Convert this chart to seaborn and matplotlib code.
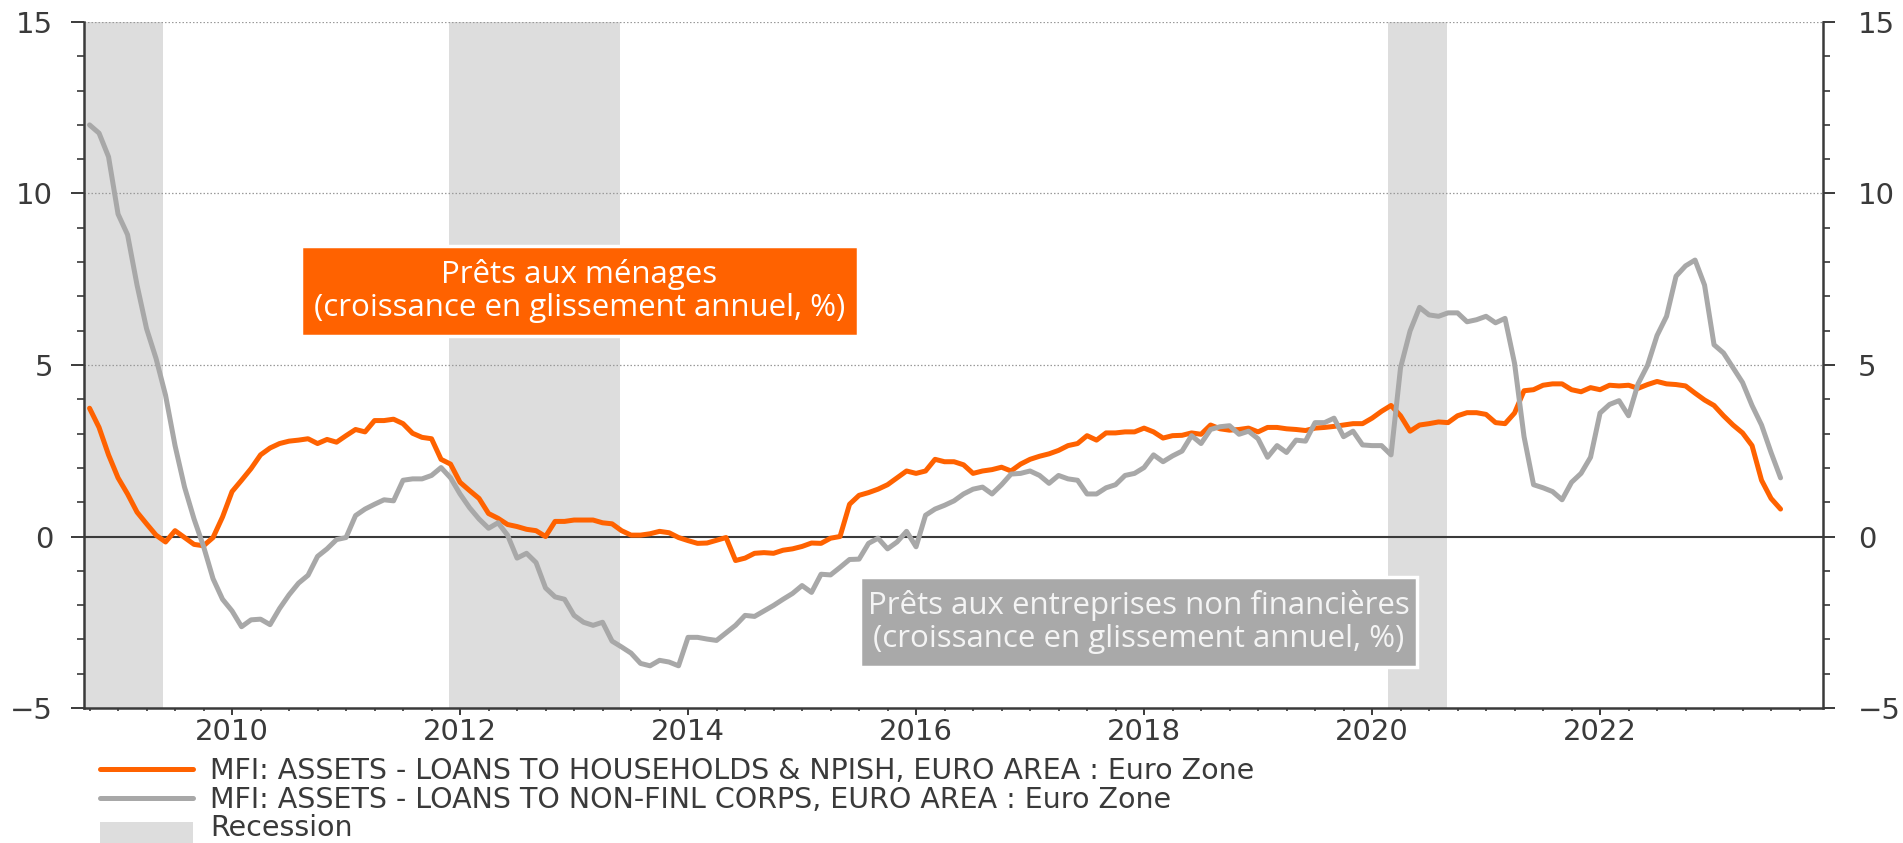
import matplotlib
matplotlib.use("Agg")
import matplotlib.pyplot as plt
from matplotlib.lines import Line2D
from matplotlib.patches import Rectangle
from matplotlib.ticker import MultipleLocator
import numpy as np
import pandas as pd
import seaborn as sns

# monthly y/y growth, Oct 2008 -> Aug 2023
households = [
    3.74, 3.18, 2.38, 1.71, 1.24, 0.71, 0.37, 0.04, -0.16, 0.17,
    -0.03, -0.23, -0.27, -0.03, 0.57, 1.31, 1.64, 1.98, 2.38, 2.58,
    2.71, 2.78, 2.81, 2.85, 2.71, 2.83, 2.75, 2.94, 3.12, 3.05,
    3.38, 3.38, 3.42, 3.29, 3.01, 2.89, 2.85, 2.25, 2.11, 1.58,
    1.34, 1.11, 0.67, 0.53, 0.35, 0.29, 0.21, 0.17, 0.0, 0.44,
    0.44, 0.48, 0.48, 0.48, 0.40, 0.37, 0.17, 0.04, 0.04, 0.08,
    0.15, 0.11, -0.03, -0.12, -0.20, -0.19, -0.11, -0.03, -0.70, -0.63,
    -0.49, -0.47, -0.49, -0.40, -0.36, -0.29, -0.19, -0.20, -0.05, 0.0,
    0.94, 1.20, 1.28, 1.38, 1.51, 1.71, 1.91, 1.84, 1.91, 2.25,
    2.18, 2.18, 2.09, 1.84, 1.91, 1.95, 2.02, 1.91, 2.11, 2.25,
    2.34, 2.41, 2.51, 2.65, 2.71, 2.94, 2.81, 3.02, 3.02, 3.05,
    3.05, 3.16, 3.05, 2.87, 2.94, 2.95, 3.02, 2.98, 3.25, 3.14,
    3.10, 3.12, 3.16, 3.05, 3.18, 3.18, 3.14, 3.12, 3.09, 3.16,
    3.18, 3.21, 3.25, 3.29, 3.29, 3.45, 3.65, 3.82, 3.52, 3.07,
    3.25, 3.29, 3.34, 3.32, 3.52, 3.61, 3.61, 3.56, 3.32, 3.29,
    3.60, 4.25, 4.28, 4.41, 4.45, 4.45, 4.28, 4.22, 4.34, 4.28,
    4.41, 4.39, 4.41, 4.32, 4.43, 4.52, 4.45, 4.43, 4.39, 4.18,
    3.98, 3.82, 3.52, 3.25, 3.02, 2.65, 1.64, 1.11, 0.80,
]
corporates = [
    12.0, 11.76, 11.07, 9.40, 8.80, 7.33, 6.06, 5.19, 4.12, 2.65,
    1.44, 0.51, -0.29, -1.23, -1.83, -2.17, -2.63, -2.43, -2.41, -2.57,
    -2.10, -1.70, -1.36, -1.13, -0.58, -0.36, -0.09, -0.03, 0.61, 0.80,
    0.94, 1.07, 1.04, 1.64, 1.68, 1.68, 1.78, 2.01, 1.71, 1.24,
    0.84, 0.51, 0.24, 0.40, 0.04, -0.63, -0.49, -0.76, -1.50, -1.76,
    -1.83, -2.30, -2.50, -2.59, -2.50, -3.05, -3.22, -3.40, -3.70, -3.77,
    -3.61, -3.66, -3.77, -2.94, -2.94, -2.99, -3.03, -2.81, -2.59, -2.30,
    -2.33, -2.17, -2.01, -1.83, -1.66, -1.43, -1.63, -1.10, -1.12, -0.90,
    -0.67, -0.66, -0.20, -0.05, -0.36, -0.16, 0.15, -0.30, 0.62, 0.80,
    0.91, 1.04, 1.24, 1.38, 1.44, 1.24, 1.51, 1.82, 1.84, 1.91,
    1.78, 1.55, 1.78, 1.68, 1.64, 1.24, 1.24, 1.42, 1.51, 1.78,
    1.84, 2.01, 2.38, 2.18, 2.35, 2.49, 2.94, 2.71, 3.12, 3.20,
    3.23, 2.98, 3.07, 2.85, 2.31, 2.65, 2.45, 2.81, 2.78, 3.32,
    3.32, 3.45, 2.91, 3.07, 2.67, 2.65, 2.65, 2.38, 4.92, 5.99,
    6.68, 6.46, 6.42, 6.52, 6.52, 6.26, 6.32, 6.42, 6.23, 6.36,
    5.05, 2.91, 1.51, 1.42, 1.31, 1.07, 1.58, 1.84, 2.31, 3.60,
    3.85, 3.96, 3.52, 4.45, 4.99, 5.86, 6.42, 7.59, 7.89, 8.06,
    7.33, 5.59, 5.35, 4.92, 4.49, 3.82, 3.25, 2.45, 1.71,
]
start_month = "2008-10-01"

recession_start = [2008.5, 2011.9, 2020.14]
recession_end = [2009.39, 2013.4, 2020.66]

year_ticks = [2010, 2012, 2014, 2016, 2018, 2020, 2022]
value_ticks = [-5, 0, 5, 10, 15]
grid_values = [5, 10, 15]

legend_labels = [
    "MFI: ASSETS - LOANS TO HOUSEHOLDS & NPISH, EURO AREA : Euro Zone",
    "MFI: ASSETS - LOANS TO NON-FINL CORPS, EURO AREA : Euro Zone",
    "Recession",
]
box_households = "Prêts aux ménages\n(croissance en glissement annuel, %)"
box_corporates = "Prêts aux entreprises non financières\n(croissance en glissement annuel, %)"

ORANGE = "#ff6200"
GREY = "#a8a8a8"
SHADE = "#dddddd"
DARK = "#3a3a3a"

months = pd.date_range(start_month, periods=len(households), freq="MS")
t = np.asarray(months.year + (months.month - 1) / 12.0)
n = len(t)
df = pd.DataFrame({
    "t": np.concatenate([t, t]),
    "value": households + corporates,
    "series": ["hh"] * n + ["nfc"] * n,
})

sns.set_style("white")
plt.rcParams["font.family"] = ["DejaVu Sans"]

fig = plt.figure(figsize=(19.03, 8.43), dpi=100)
ax = fig.add_axes([84.3 / 1903, 135 / 843, 1738.7 / 1903, 686 / 843])

for s, e in zip(recession_start, recession_end):
    ax.axvspan(s, e, color=SHADE, lw=0, zorder=0.5)
for v in grid_values:
    ax.axhline(v, color="#9a9a9a", lw=0.9, ls=(0, (1.2, 1.6)), zorder=1)
ax.axhline(0, color=DARK, lw=1.5, zorder=1.5)

sns.lineplot(data=df, x="t", y="value", hue="series", hue_order=["hh", "nfc"],
             palette={"hh": ORANGE, "nfc": GREY}, linewidth=3.6,
             estimator=None, legend=False, ax=ax)

ax.set_xlim(2008.704, 2008.704 + 1738.7 / 114)
ax.set_ylim(-5, 15)
ax.set_xlabel("")
ax.set_ylabel("")
ax.set_xticks(year_ticks)
ax.xaxis.set_minor_locator(MultipleLocator(0.25))
ax.set_yticks(value_ticks)
ax.yaxis.set_minor_locator(MultipleLocator(1))

ax.tick_params(axis="x", which="major", direction="out", length=5, width=1.4,
               color=DARK, labelsize=21, labelcolor=DARK, pad=2, bottom=True)
ax.tick_params(axis="x", which="minor", direction="out", length=2.5, width=1.2,
               color=DARK, bottom=True)
ax.tick_params(axis="y", which="major", direction="out", length=9.4, width=1.4,
               color=DARK, labelsize=21, labelcolor=DARK, pad=13, left=True)
ax.tick_params(axis="y", which="minor", direction="out", length=5, width=1.2,
               color=DARK, left=True)

for side in ["left", "bottom"]:
    ax.spines[side].set_color(DARK)
    ax.spines[side].set_linewidth(1.8)
ax.spines["top"].set_visible(False)
ax.spines["right"].set_visible(False)

ax2 = ax.twinx()
ax2.set_ylim(-5, 15)
ax2.set_yticks(value_ticks)
ax2.yaxis.set_minor_locator(MultipleLocator(1))
ax2.tick_params(axis="y", which="major", direction="out", length=8.6, width=1.4,
                color=DARK, labelsize=21, labelcolor=DARK, pad=16.5, right=True)
ax2.tick_params(axis="y", which="minor", direction="out", length=5, width=1.2,
                color=DARK, right=True)
for side in ["top", "left", "bottom"]:
    ax2.spines[side].set_visible(False)
ax2.spines["right"].set_color(DARK)
ax2.spines["right"].set_linewidth(1.8)

# annotation boxes
box_font = ["Open Sans", "DejaVu Sans"]
ax.add_patch(Rectangle((0.1246, 0.5423), 0.3204, 0.1312, transform=ax.transAxes,
                       facecolor=ORANGE, edgecolor="white", lw=2.5, zorder=4))
ax.text(0.1246 + 0.3204 / 2, 0.5423 + 0.1312 / 2, box_households, transform=ax.transAxes,
        ha="center", va="center", multialignment="center", color="white",
        fontsize=22.5, family=box_font, linespacing=1.15, zorder=5)
ax.add_patch(Rectangle((0.4461, 0.0598), 0.3204, 0.1312, transform=ax.transAxes,
                       facecolor="#a9a9a9", edgecolor="white", lw=2.5, zorder=4))
ax.text(0.4461 + 0.3204 / 2, 0.0598 + 0.1312 / 2, box_corporates, transform=ax.transAxes,
        ha="center", va="center", multialignment="center", color="#f4f4f4",
        fontsize=22.5, family=box_font, linespacing=1.15, zorder=5)

# legend below the chart
rows = [769, 798, 826]
for y_px, col in zip(rows[:2], [ORANGE, GREY]):
    fig.add_artist(Line2D([100 / 1903, 193 / 1903], [1 - y_px / 843] * 2,
                          transform=fig.transFigure, color=col, lw=3.6))
fig.add_artist(Rectangle((100 / 1903, 0), 93 / 1903, 21 / 843,
                         transform=fig.transFigure, facecolor=SHADE, lw=0))
for y_px, label in zip(rows, legend_labels):
    fig.text(210 / 1903, 1 - (y_px + 10) / 843, label, ha="left", va="baseline",
             fontsize=20.5, color=DARK)

fig.savefig("out.png", dpi=100)
